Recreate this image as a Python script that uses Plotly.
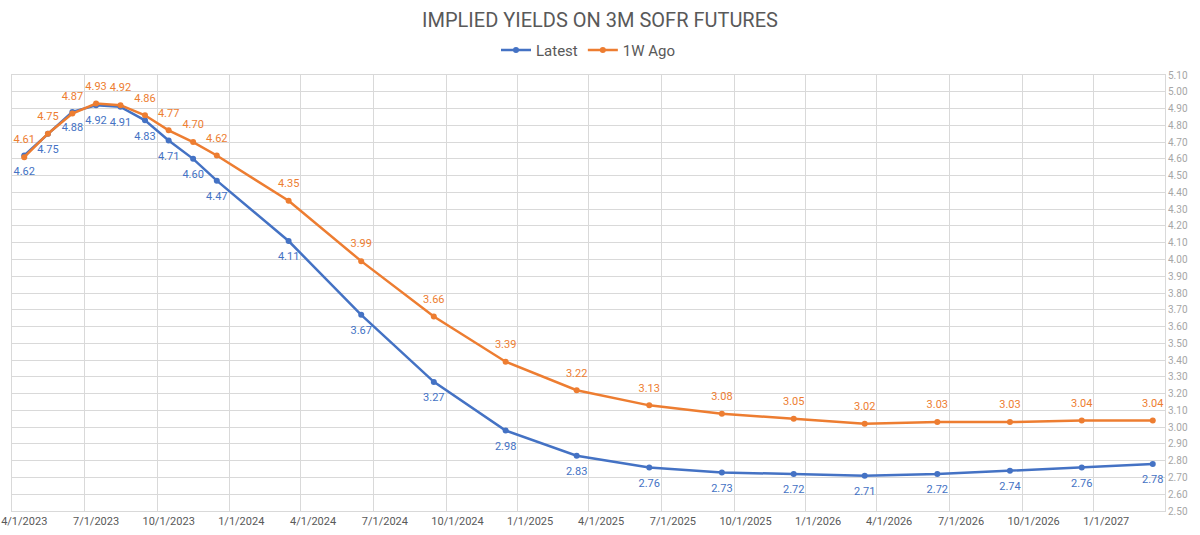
import plotly.graph_objects as go

dates = ["2023-04-01", "2023-05-01", "2023-06-01", "2023-07-01", "2023-08-01", "2023-09-01",
         "2023-10-01", "2023-11-01", "2023-12-01", "2024-03-01", "2024-06-01", "2024-09-01",
         "2024-12-01", "2025-03-01", "2025-06-01", "2025-09-01", "2025-12-01", "2026-03-01",
         "2026-06-01", "2026-09-01", "2026-12-01", "2027-03-01"]
latest = [4.62, 4.75, 4.88, 4.92, 4.91, 4.83, 4.71, 4.60, 4.47, 4.11, 3.67, 3.27,
          2.98, 2.83, 2.76, 2.73, 2.72, 2.71, 2.72, 2.74, 2.76, 2.78]
week_ago = [4.61, 4.75, 4.87, 4.93, 4.92, 4.86, 4.77, 4.70, 4.62, 4.35, 3.99, 3.66,
            3.39, 3.22, 3.13, 3.08, 3.05, 3.02, 3.03, 3.03, 3.04, 3.04]

BLUE = "#4472C4"
ORANGE = "#ED7D31"
FONT = "Roboto"

fig = go.Figure()
fig.add_trace(go.Scatter(
    x=dates, y=latest, name="Latest", mode="lines+markers",
    line=dict(color=BLUE, width=2.5), marker=dict(color=BLUE, size=6)))
fig.add_trace(go.Scatter(
    x=dates, y=week_ago, name="1W Ago", mode="lines+markers",
    line=dict(color=ORANGE, width=2.5), marker=dict(color=ORANGE, size=6)))
fig.add_trace(go.Scatter(
    x=dates, y=latest, mode="markers+text", showlegend=False, hoverinfo="skip",
    marker=dict(size=16, color="rgba(0,0,0,0)"),
    text=[f"{v:.2f}" for v in latest], textposition="bottom center",
    textfont=dict(color=BLUE, size=11, family=FONT)))
fig.add_trace(go.Scatter(
    x=dates, y=week_ago, mode="markers+text", showlegend=False, hoverinfo="skip",
    marker=dict(size=16, color="rgba(0,0,0,0)"),
    text=[f"{v:.2f}" for v in week_ago], textposition="top center",
    textfont=dict(color=ORANGE, size=11, family=FONT)))

fig.update_layout(
    width=1200, height=535,
    margin=dict(l=12, r=35, t=75, b=24, autoexpand=False),
    paper_bgcolor="white", plot_bgcolor="white",
    font=dict(family=FONT, color="#595959"),
    title=dict(text="IMPLIED YIELDS ON 3M SOFR FUTURES", x=0.5, xanchor="center",
               y=0.962, yanchor="middle", font=dict(size=20, color="#595959", family=FONT)),
    legend=dict(orientation="h", x=0.5, xanchor="center", y=1.057, yanchor="middle",
                font=dict(size=15, color="#595959", family=FONT), itemwidth=30,
                bgcolor="rgba(0,0,0,0)"),
    showlegend=True,
)
fig.update_xaxes(
    type="date", range=["2023-03-16 12:00", "2027-03-16 12:00"], automargin=False,
    tick0="2023-04-01", dtick="M3", tickformat="%-m/%-d/%Y",
    showgrid=False, ticks="", tickfont=dict(size=11, color="#595959"),
    showline=True, linecolor="#d9d9d9", linewidth=1, mirror=True,
    minor=dict(tick0="2023-03-16 12:00", dtick="M3", showgrid=True,
               gridcolor="#d9d9d9", gridwidth=1),
    zeroline=False, fixedrange=True)
fig.update_yaxes(
    side="right", range=[2.5, 5.1], dtick=0.1, tick0=2.5, tickformat=".2f", automargin=False,
    showgrid=True, gridcolor="#d9d9d9", gridwidth=1,
    tickfont=dict(size=10, color="#a6a6a6"), ticks="",
    showline=True, linecolor="#d9d9d9", linewidth=1, mirror=True,
    zeroline=False, fixedrange=True)

fig.write_html("out.html")
